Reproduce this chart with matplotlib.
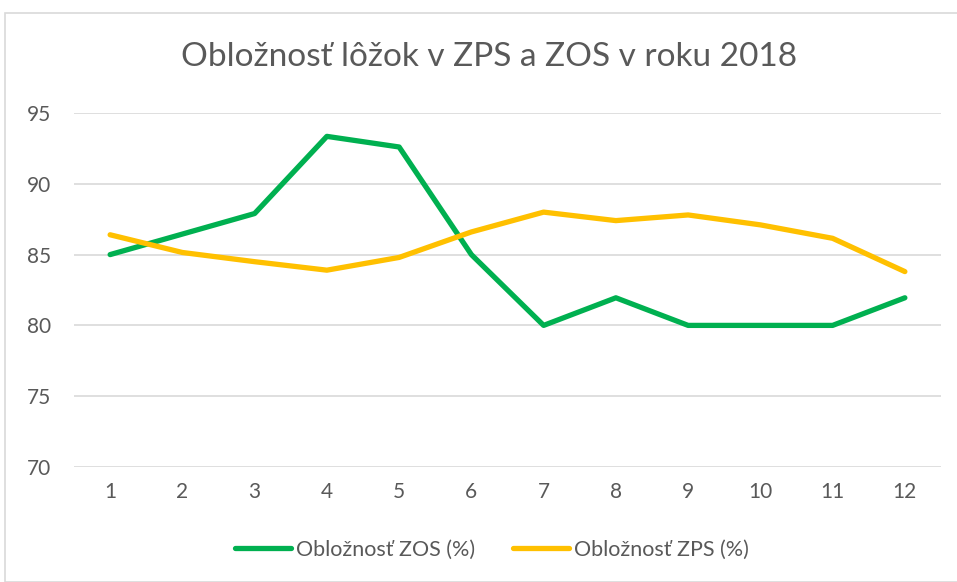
import matplotlib
matplotlib.use("Agg")
import matplotlib.pyplot as plt
from matplotlib.patches import Rectangle

months = [1, 2, 3, 4, 5, 6, 7, 8, 9, 10, 11, 12]
zos = [85.0, 86.45, 87.9, 93.35, 92.6, 85.0, 80.0, 81.95, 80.0, 80.0, 80.0, 81.95]
zps = [86.4, 85.15, 84.5, 83.9, 84.8, 86.6, 88.0, 87.4, 87.8, 87.1, 86.15, 83.8]
yticks = [70, 75, 80, 85, 90, 95]
title = "Obložnosť lôžok v ZPS a ZOS v roku 2018"
labels = ["Obložnosť ZOS (%)", "Obložnosť ZPS (%)"]

plt.rcParams['font.family'] = ['Lato', 'DejaVu Sans']
W, H = 957, 582
fig = plt.figure(figsize=(W / 100, H / 100), dpi=100)
fig.patches.append(Rectangle((5 / W, 0), 1, 1 - 13 / H, transform=fig.transFigure,
                             fill=False, edgecolor='#d9d9d9', linewidth=1.2))
ax = fig.add_axes([74 / W, 1 - 467 / H, (941 - 74) / W, (467 - 113) / H])
l1, = ax.plot(months, zos, color='#00B050', linewidth=3.8, solid_capstyle='round',
              solid_joinstyle='round', label=labels[0])
l2, = ax.plot(months, zps, color='#FFC000', linewidth=3.8, solid_capstyle='round',
              solid_joinstyle='round', label=labels[1])
ax.set_xlim(0.5, 12.5)
ax.set_ylim(70, 95)
ax.set_yticks(yticks)
ax.set_xticks(months)
ax.grid(axis='y', color='#d9d9d9', linewidth=1.2)
ax.set_axisbelow(True)
for s in ax.spines.values():
    s.set_visible(False)
ax.tick_params(length=0, labelsize=15, labelcolor='#595959')
ax.tick_params(axis='x', pad=11)
ax.tick_params(axis='y', pad=16.5)
fig.text(489 / W, 1 - 57 / H, title, ha='center', va='center', fontsize=24, color='#595959')
fig.legend(handles=[l1, l2], loc='center', bbox_to_anchor=(492 / W, 1 - 550 / H), ncol=2,
           frameon=False, fontsize=15.5, labelcolor='#595959', handlelength=2.6,
           handletextpad=0.23, columnspacing=1.77)
fig.savefig("out.png", dpi=100)
